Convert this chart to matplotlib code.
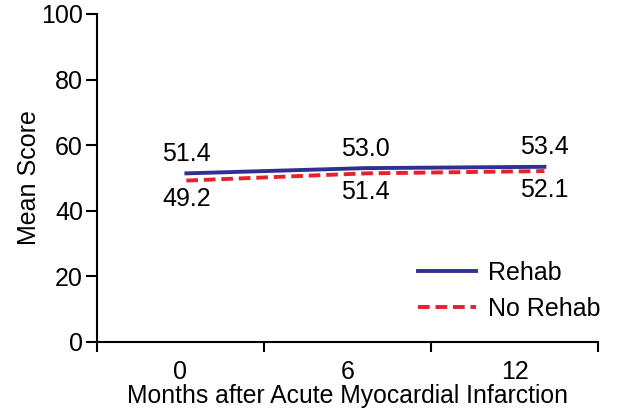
import numpy as np
import matplotlib
matplotlib.use("Agg")
from matplotlib import pyplot as plt

# data
months = [0, 6, 12]
month_labels = ["0", "6", "12"]
rehab = [51.4, 53.0, 53.4]
no_rehab = [49.2, 51.4, 52.1]

BLUE = "#2e3192"
RED = "#e8202a"

plt.rcParams["font.family"] = ["Liberation Sans", "DejaVu Sans"]

fig = plt.figure(figsize=(6.37, 4.11), dpi=100)
ax = fig.add_axes([0.152, 0.168, 0.787, 0.798])

# category axis: labels in the middle, ticks on the boundaries
n = len(months)
ax.set_xlim(-0.5, n - 0.5)
ax.set_xticks(np.arange(n))
ax.set_xticklabels(month_labels)
ax.set_xticks(np.arange(n + 1) - 0.5, minor=True)
ax.tick_params(axis="x", which="major", length=0, labelsize=18, pad=13)
ax.tick_params(axis="x", which="minor", length=7.5, width=1.5, direction="out")
ax.set_ylim(0, 100)
ax.set_yticks(np.arange(0, 101, 20))
ax.tick_params(axis="y", length=8, width=1.5, labelsize=18, pad=2)

for s in ["top", "right"]:
    ax.spines[s].set_visible(False)
for s in ["left", "bottom"]:
    ax.spines[s].set_linewidth(1.5)

ax.set_xlabel("Months after Acute Myocardial Infarction", fontsize=17.8, labelpad=0)
ax.set_ylabel("Mean Score", fontsize=18, labelpad=0)

# lines sit on a numeric month scale that is slightly offset from the categories
lx = ax.twiny()
lx.set_xlim(-3.0, 13.8)
lx.axis("off")
l1, = lx.plot(months, rehab, color=BLUE, lw=2.8, label="Rehab")
l2, = lx.plot(months, no_rehab, color=RED, lw=2.8, ls=(0, (3, 1.5)), label="No Rehab")

for m, a, b in zip(months, rehab, no_rehab):
    lx.annotate(f"{a:.1f}", (m, a), xytext=(0, 14), textcoords="offset points",
                ha="center", va="center", fontsize=18)
    lx.annotate(f"{b:.1f}", (m, b), xytext=(0, -13.5), textcoords="offset points",
                ha="center", va="center", fontsize=18)

ax.legend([l1, l2], ["Rehab", "No Rehab"], loc="lower right", frameon=False,
          fontsize=18, handlelength=2.3, handletextpad=0.5, labelspacing=0.5,
          bbox_to_anchor=(1.05, -0.005))

fig.savefig("out.png", dpi=100)
